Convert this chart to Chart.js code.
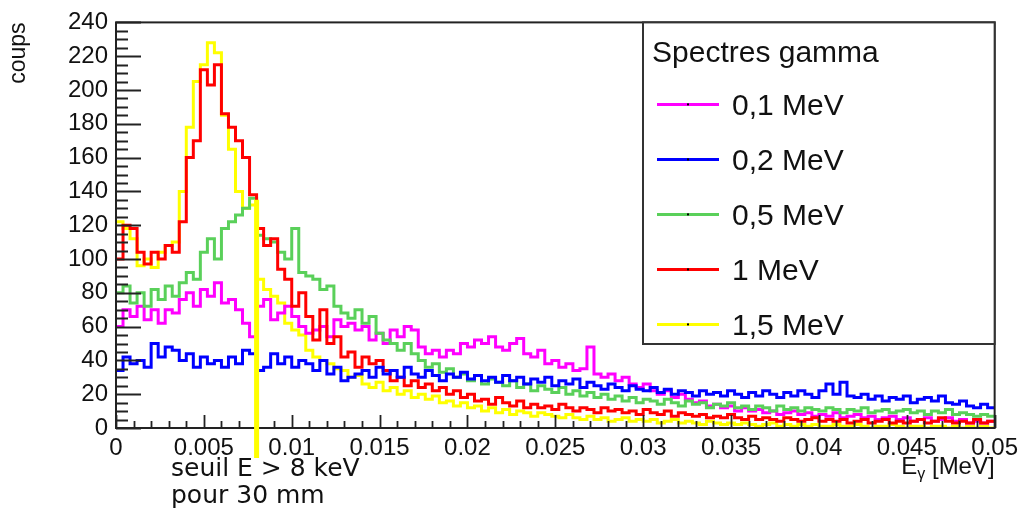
<!DOCTYPE html>
<html>
  <head>
    <meta charset="utf-8" />
    <title>Spectres gamma</title>
    <script src="https://cdn.jsdelivr.net/npm/chart.js"></script>
    <style>
      html, body { margin: 0; padding: 0; background: #fff; }
      canvas { display: block; }
    </style>
  </head>
  <body>
    <canvas id="myChart" width="1024" height="514"></canvas>

    <script>
      // histogram binning (MeV)
      const xMin = 0;
      const xMax = 0.05;
      const nBins = 125;
      const yMax = 240;

      // threshold 8 keV
      const seuil = 0.008;
      const seuilTop = 135;

      const seriesLabels = ["0,1 MeV", "0,2 MeV", "0,5 MeV", "1 MeV", "1,5 MeV"];

      const counts01MeV = [
        60, 70, 66, 72, 64, 70, 62, 70, 68, 76,
        80, 72, 82, 78, 86, 74, 76, 70, 62, 54,
        72, 76, 64, 68, 72, 66, 60, 56, 58, 60,
        54, 64, 60, 62, 58, 60, 52, 56, 50, 58,
        54, 60, 58, 48, 44, 46, 42, 46, 44, 50,
        48, 52, 50, 54, 48, 46, 50, 53, 44, 42,
        46, 38, 40, 36, 38, 34, 35, 48, 32, 30,
        32, 28, 30, 26, 24, 26, 22, 20, 22, 18,
        20, 17, 15, 16, 13, 14, 12, 13, 10, 12,
        10, 11, 9, 10, 8, 9, 10, 8, 9, 7,
        8, 7, 9, 6, 7, 8, 6, 7, 5, 6,
        7, 5, 6, 4, 5, 6, 4, 5, 6, 4,
        5, 3, 4, 3, 4,
      ];
      const counts02MeV = [
        34, 42, 38, 40, 36, 50, 42, 48, 46, 40,
        44, 36, 42, 38, 40, 36, 42, 38, 46, 44,
        34, 36, 44, 38, 42, 36, 40, 38, 34, 40,
        32, 36, 28, 30, 32, 34, 30, 36, 32, 34,
        30, 36, 32, 30, 34, 31, 28, 32, 30, 33,
        29, 31, 28, 30, 27, 31, 28, 30, 26, 29,
        27, 30, 25, 28, 26, 29, 24, 27, 25, 23,
        26, 24, 22, 25, 23, 22, 24, 21, 23, 20,
        22, 21, 19, 22, 20, 21, 19, 22, 20, 18,
        21, 19, 22, 20, 18, 21, 19, 22, 20, 18,
        22, 26, 20, 27, 19, 18, 20, 17, 19, 16,
        18, 17, 19, 15, 17, 18, 16, 19, 15, 14,
        16, 13, 12, 14, 12,
      ];
      const counts05MeV = [
        80, 84, 74, 80, 72, 82, 76, 84, 78, 86,
        92, 88, 104, 112, 100, 118, 122, 126, 130, 136,
        114, 112, 110, 104, 100, 118, 92, 90, 88, 82,
        84, 72, 68, 65, 70, 62, 66, 56, 52, 50,
        46, 50, 44, 40, 36, 38, 33, 35, 30, 32,
        28, 31, 26, 29, 27, 25, 28, 24, 26, 22,
        25, 23, 21, 24, 20, 22, 19, 21, 18, 20,
        17, 19, 16, 18, 15, 17, 16, 14, 17, 15,
        13, 16, 14, 15, 12, 14, 13, 15, 12, 13,
        11, 13, 12, 10, 13, 11, 12, 10, 12, 11,
        10, 12, 11, 9, 11, 10, 12, 9, 10, 11,
        9, 10, 11, 9, 10, 8, 10, 9, 11, 8,
        9, 8, 7, 8, 7,
      ];
      const counts1MeV = [
        100, 120, 118, 104, 97, 104, 100, 108, 104, 122,
        160, 170, 212, 203, 215, 186, 178, 170, 160, 138,
        118, 108, 112, 94, 88, 72, 80, 66, 52, 70,
        50, 54, 42, 45, 36, 42, 38, 40, 34, 28,
        30, 25, 28, 24, 26, 22, 24, 20, 22, 18,
        20, 16, 17, 14, 18, 15, 13, 16, 12, 14,
        12, 13, 11, 14, 12, 10, 12, 11, 9, 12,
        10, 11, 9, 10, 8, 11, 9, 8, 10, 7,
        9, 8, 7, 8, 6, 7, 6, 8, 6, 5,
        7, 5, 6, 5, 4, 6, 5, 4, 5, 6,
        4, 5, 4, 5, 3, 4, 5, 3, 4, 5,
        3, 4, 3, 4, 5, 3, 4, 6, 4, 3,
        4, 3, 5, 3, 4,
      ];
      const counts15MeV = [
        122, 118, 112, 96, 100, 95, 104, 108, 110, 140,
        178, 205, 215, 228, 222, 185, 165, 140, 130, 132,
        88, 82, 78, 74, 62, 58, 55, 46, 42, 40,
        38, 35, 34, 30, 31, 26, 24, 27, 22, 24,
        20, 22, 18, 20, 17, 19, 15, 16, 13, 15,
        12, 13, 10, 12, 9, 11, 8, 10, 9, 7,
        9, 8, 7, 6, 8, 6, 5, 7, 5, 6,
        4, 5, 6, 4, 5, 4, 5, 3, 4, 5,
        3, 4, 3, 2, 4, 3, 2, 3, 2, 3,
        2, 1, 2, 3, 1, 2, 1, 2, 1, 2,
        1, 1, 2, 1, 1, 2, 1, 0, 1, 1,
        2, 1, 0, 1, 1, 0, 1, 1, 0, 1,
        0, 1, 0, 1, 0,
      ];

      const seriesCounts = [counts01MeV, counts02MeV, counts05MeV, counts1MeV, counts15MeV];
      const seriesColors = ["#ff00ff", "#0000ff", "#5ad05a", "#ff0000", "#ffff00"];
      const drawOrder = [4, 1, 3, 2, 5]; // lower = on top

      const binW = (xMax - xMin) / nBins;

      // points on the low edge of each bin, plus the closing edge
      function toHist(vals) {
        const pts = vals.map((v, i) => ({ x: xMin + i * binW, y: v }));
        pts.push({ x: xMax, y: vals[vals.length - 1] });
        return pts;
      }

      const FONT = '"Liberation Sans", Arial, sans-serif';

      const decor = {
        id: "decor",
        afterDatasetsDraw(chart) {
          const ctx = chart.ctx;
          const a = chart.chartArea;
          const xs = chart.scales.x;
          const ys = chart.scales.y;
          ctx.save();

          // frame
          ctx.strokeStyle = "#222";
          ctx.lineWidth = 2;
          ctx.strokeRect(a.left, a.top, a.right - a.left, a.bottom - a.top);

          // inward ticks
          ctx.lineWidth = 1.8;
          ctx.beginPath();
          for (let v = 0; v <= yMax; v += 5) {
            const y = Math.round(ys.getPixelForValue(v)) + 0.5;
            const len = v % 20 === 0 ? 25 : 12;
            ctx.moveTo(a.left, y);
            ctx.lineTo(a.left + len, y);
          }
          for (let k = 0; k <= 50; k++) {
            const x = Math.round(xs.getPixelForValue(k * 0.001)) + 0.5;
            const len = k % 5 === 0 ? 13 : 7;
            ctx.moveTo(x, a.bottom);
            ctx.lineTo(x, a.bottom - len);
          }
          ctx.stroke();

          // threshold line
          const sx = xs.getPixelForValue(seuil);
          ctx.strokeStyle = "#ffff00";
          ctx.lineWidth = 5;
          ctx.beginPath();
          ctx.moveTo(sx, ys.getPixelForValue(seuilTop));
          ctx.lineTo(sx, a.bottom + 30);
          ctx.stroke();

          // legend box
          const lx = 643, ly = a.top, lr = a.right, lb = 344;
          ctx.fillStyle = "#fff";
          ctx.fillRect(lx, ly, lr - lx, lb - ly);
          ctx.strokeStyle = "#333";
          ctx.lineWidth = 2;
          ctx.strokeRect(lx, ly, lr - lx, lb - ly);
          ctx.fillStyle = "#111";
          ctx.font = "30px " + FONT;
          ctx.textAlign = "left";
          ctx.textBaseline = "alphabetic";
          ctx.fillText("Spectres gamma", lx + 9, ly + 40);
          chart.data.datasets.forEach((ds, i) => {
            const y = ly + 82 + i * 55;
            ctx.strokeStyle = ds.borderColor;
            ctx.lineWidth = 3;
            ctx.beginPath();
            ctx.moveTo(lx + 14, y);
            ctx.lineTo(lx + 76, y);
            ctx.stroke();
            ctx.fillStyle = "#000";
            ctx.fillRect(lx + 44, y - 1, 2, 2);
            ctx.fillStyle = "#111";
            ctx.fillText(ds.label, lx + 89, y + 11);
          });

          // y title
          ctx.save();
          ctx.translate(25, a.top);
          ctx.rotate(-Math.PI / 2);
          ctx.font = "23px " + FONT;
          ctx.textAlign = "right";
          ctx.fillText("coups", 0, 0);
          ctx.restore();

          // x title E_gamma [MeV], right aligned
          ctx.font = "24px " + FONT;
          const wE = ctx.measureText("E").width;
          const wU = ctx.measureText(" [MeV]").width;
          ctx.font = "16px " + FONT;
          const wG = ctx.measureText("\u03b3").width;
          let tx = a.right - (wE + wG + wU);
          const ty = 474;
          ctx.font = "24px " + FONT;
          ctx.fillText("E", tx, ty);
          ctx.font = "16px " + FONT;
          ctx.fillText("\u03b3", tx + wE, ty + 5);
          ctx.font = "24px " + FONT;
          ctx.fillText(" [MeV]", tx + wE + wG, ty);

          // threshold note
          ctx.font = '25px "DejaVu Sans", sans-serif';
          ctx.fillText("seuil E > 8 keV", 171, 476);
          ctx.fillText("pour 30 mm", 171, 503);

          ctx.restore();
        },
      };

      const data = {
        datasets: seriesCounts.map((vals, i) => ({
          label: seriesLabels[i],
          data: toHist(vals),
          borderColor: seriesColors[i],
          backgroundColor: seriesColors[i],
          borderWidth: 3,
          pointRadius: 0,
          stepped: true,
          fill: false,
          order: drawOrder[i],
        })),
      };

      const config = {
        type: "line",
        data: data,
        options: {
          responsive: false,
          animation: false,
          layout: { padding: { top: 15, right: 28, left: 0, bottom: 0 } },
          plugins: {
            legend: { display: false },
            tooltip: { enabled: false },
          },
          scales: {
            x: {
              type: "linear",
              min: xMin,
              max: xMax,
              grid: { display: false, drawTicks: false },
              border: { display: false },
              ticks: {
                stepSize: 0.005,
                autoSkip: false,
                maxRotation: 0,
                padding: 6,
                color: "#111",
                font: { family: FONT, size: 24 },
                callback: (v) => String(+Number(v).toFixed(3)),
              },
              afterFit: (s) => { s.height = 86; },
            },
            y: {
              min: 0,
              max: yMax,
              grid: { display: false, drawTicks: false },
              border: { display: false },
              ticks: {
                stepSize: 20,
                padding: 8,
                color: "#111",
                font: { family: FONT, size: 24 },
              },
              afterFit: (s) => { s.width = 116; },
            },
          },
        },
        plugins: [decor],
      };

      const myChart = new Chart(document.getElementById("myChart"), config);
    </script>
  </body>
</html>
